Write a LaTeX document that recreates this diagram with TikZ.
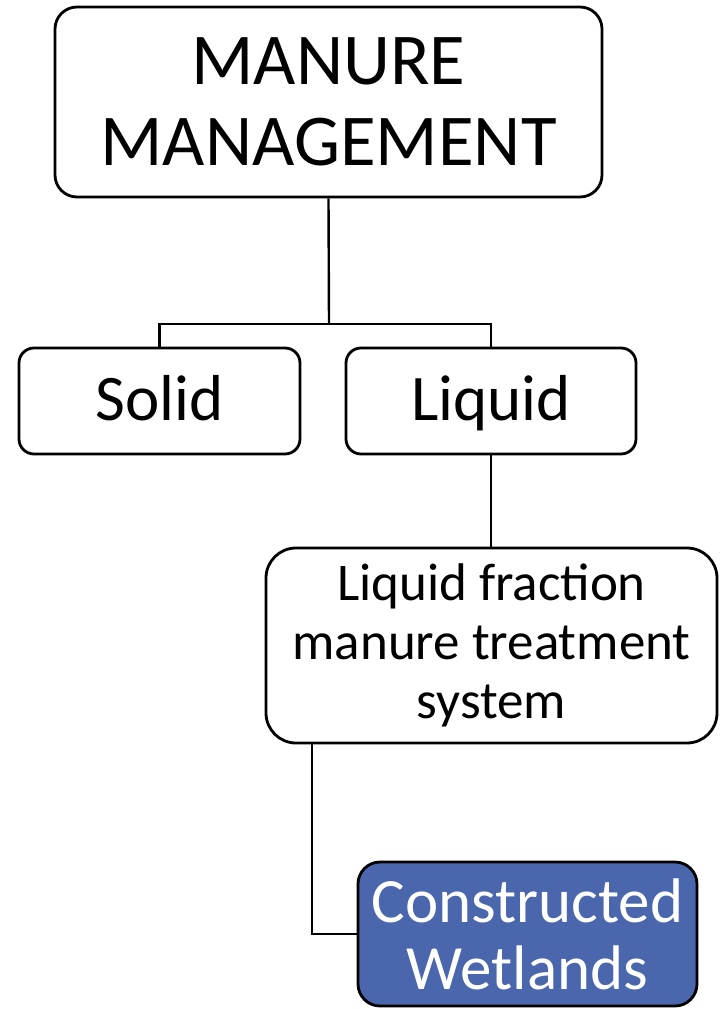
\documentclass[tikz,border=0pt]{standalone}
\usepackage{fontspec}
\setmainfont{Carlito}
\definecolor{cwblue}{RGB}{74,103,173}
\begin{document}
\begin{tikzpicture}[x=1pt,y=-1pt,
  box/.style={draw=black,line width=2.8pt,rounded corners=22pt,fill=white,align=center,inner sep=0pt},
  conn/.style={draw=black,line width=2.4pt}]
\useasboundingbox (0,0) rectangle (722,1009);
\node[box,minimum width=547pt,minimum height=190pt,font=\fontsize{73}{81}\selectfont] (top) at (328.5,102) {MANURE\\MANAGEMENT};
\node[box,rounded corners=15pt,minimum width=281pt,minimum height=106pt,text height=48pt,text depth=10pt,font=\fontsize{65}{70}\selectfont] (solid) at (159.5,401) {Solid};
\node[box,rounded corners=15pt,minimum width=290pt,minimum height=106pt,text height=48pt,text depth=10pt,font=\fontsize{65}{70}\selectfont] (liquid) at (491,401) {Liquid};
\node[box,rounded corners=30pt,minimum width=451pt,minimum height=195pt,font=\fontsize{53}{59}\selectfont] (lf) at (491.5,645.5) {Liquid fraction\\manure treatment\\system};
\node[box,rounded corners=22pt,fill=cwblue,text=white,minimum width=339pt,minimum height=144pt,font=\fontsize{63}{67}\selectfont] (cw) at (527.5,934) {Constructed\\Wetlands};
\coordinate (j) at (329,324);
\draw[conn] (top.south) -- (j);
\draw[conn] (solid.north) |- (j) -| (liquid.north);
\draw[conn] (liquid.south) -- (liquid.south |- lf.north);
\draw[conn] ([xshift=-179.5pt]lf.south) |- (cw.west);
\end{tikzpicture}
\end{document}
